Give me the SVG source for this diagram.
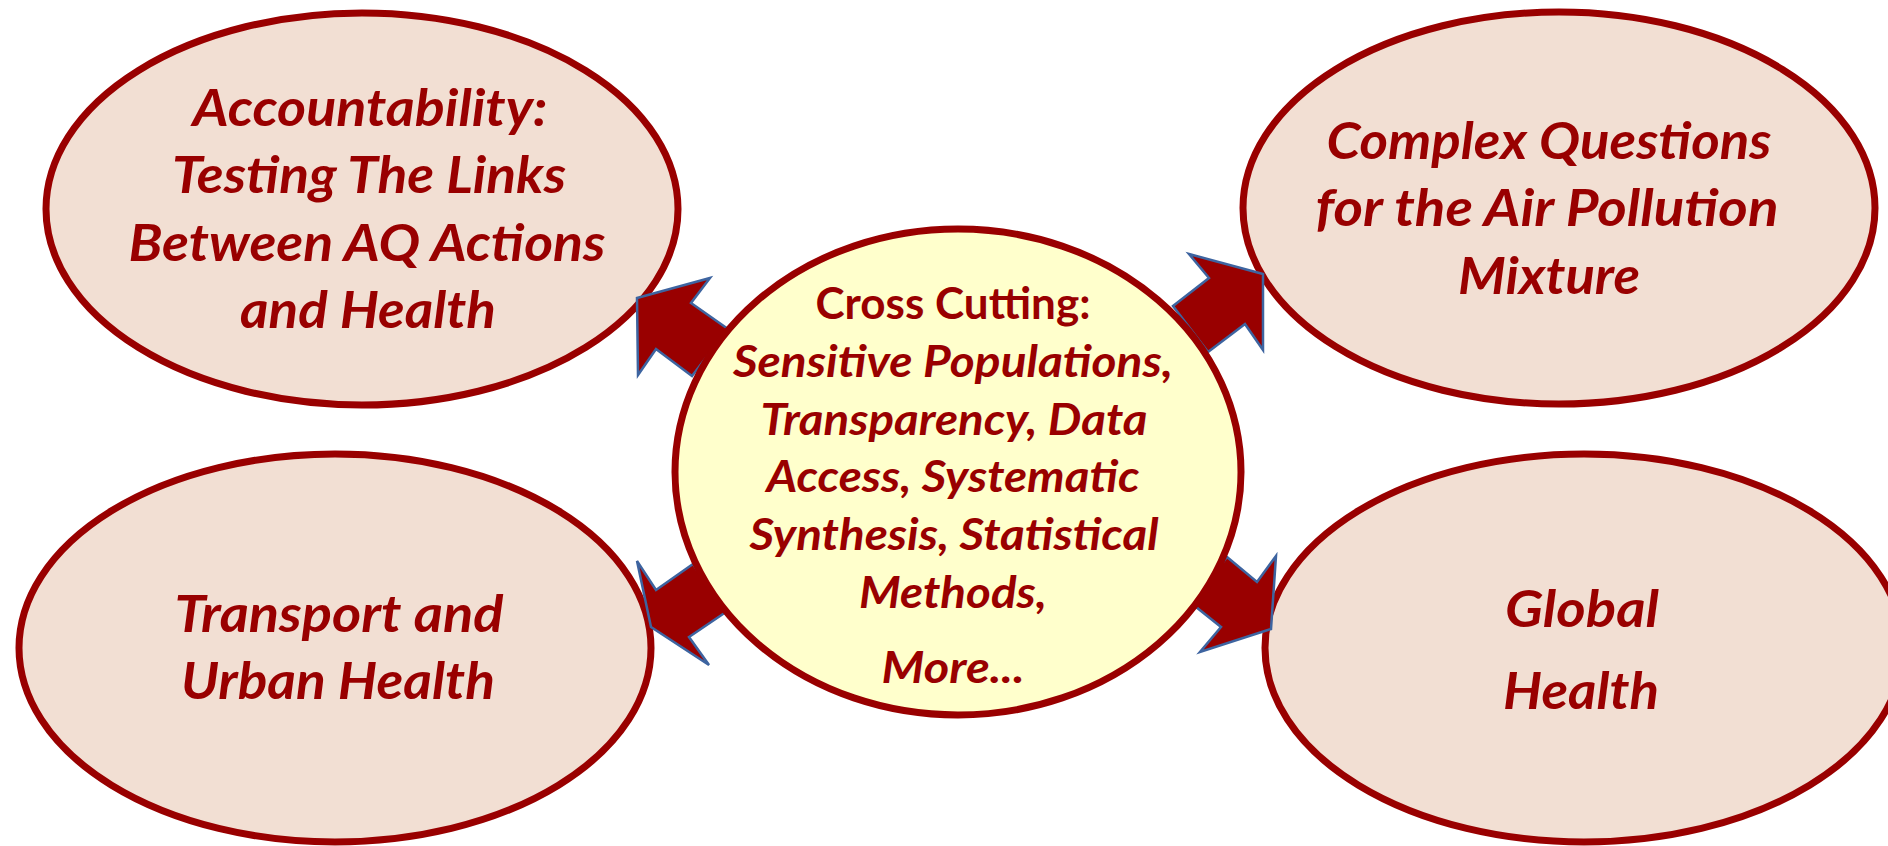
<svg xmlns="http://www.w3.org/2000/svg" width="1888" height="846" viewBox="0 0 1888 846">
<defs>
<style>
.outer{fill:#F2DFD3;stroke:#990000;stroke-width:7}
.center{fill:#FFFFCC;stroke:#990000;stroke-width:7}
.arrow{fill:#990000;stroke:#3D64A0;stroke-width:2.5;stroke-linejoin:miter}
.t{font-family:Lato,"Open Sans","Liberation Sans",sans-serif;font-weight:bold;font-style:italic;fill:#990000;text-anchor:middle}
.big{font-size:52px}
.mid{font-size:43px}
.up{font-style:normal}
</style>
</defs>
<rect width="1888" height="846" fill="#FFFFFF"/>
<g id="node-accountability">
<ellipse class="outer" cx="362" cy="209" rx="316" ry="196"/>
<text class="t big" x="370" y="126" textLength="355" lengthAdjust="spacingAndGlyphs">Accountability:</text>
<text class="t big" x="369" y="193" textLength="394" lengthAdjust="spacingAndGlyphs">Testing The Links</text>
<text class="t big" x="367" y="261" textLength="477" lengthAdjust="spacingAndGlyphs">Between AQ Actions</text>
<text class="t big" x="368" y="328" textLength="256" lengthAdjust="spacingAndGlyphs">and Health</text>
</g>
<g id="node-complex">
<ellipse class="outer" cx="1559" cy="208" rx="316" ry="196"/>
<text class="t big" x="1549" y="159" textLength="445" lengthAdjust="spacingAndGlyphs">Complex Questions</text>
<text class="t big" x="1547" y="226" textLength="463" lengthAdjust="spacingAndGlyphs">for the Air Pollution</text>
<text class="t big" x="1549" y="294" textLength="182" lengthAdjust="spacingAndGlyphs">Mixture</text>
</g>
<g id="node-transport">
<ellipse class="outer" cx="335" cy="648" rx="316" ry="194"/>
<text class="t big" x="339" y="632" textLength="329" lengthAdjust="spacingAndGlyphs">Transport and</text>
<text class="t big" x="338" y="699" textLength="314" lengthAdjust="spacingAndGlyphs">Urban Health</text>
</g>
<g id="node-global">
<ellipse class="outer" cx="1584" cy="648" rx="319" ry="194"/>
<text class="t big" x="1582" y="627" textLength="154" lengthAdjust="spacingAndGlyphs">Global</text>
<text class="t big" x="1581" y="709" textLength="156" lengthAdjust="spacingAndGlyphs">Health</text>
</g>
<g id="connectors">
<polygon class="arrow" points="637,298 710,278 691,303 728,329 692,376 656,349 638,375"/>
<polygon class="arrow" points="1189,254 1263,274 1263,350 1245,324 1208,352 1173,306 1209,278"/>
<polygon class="arrow" points="637,561 656,590 693,564 726,612 689,637 709,665 651,627"/>
<polygon class="arrow" points="1227,557 1257,582 1276,556 1271,629 1200,652 1221,627 1191,603"/>
</g>
<g id="node-crosscutting">
<ellipse class="center" cx="958" cy="472" rx="283" ry="243"/>
<text class="t mid up" x="953" y="319" textLength="275" lengthAdjust="spacingAndGlyphs">Cross Cutting:</text>
<text class="t mid" x="953" y="377" textLength="440" lengthAdjust="spacingAndGlyphs">Sensitive Populations,</text>
<text class="t mid" x="954" y="435" textLength="387" lengthAdjust="spacingAndGlyphs">Transparency, Data</text>
<text class="t mid" x="953" y="492" textLength="373" lengthAdjust="spacingAndGlyphs">Access, Systematic</text>
<text class="t mid" x="954" y="550" textLength="409" lengthAdjust="spacingAndGlyphs">Synthesis, Statistical</text>
<text class="t mid" x="953" y="608" textLength="188" lengthAdjust="spacingAndGlyphs">Methods,</text>
<text class="t mid" x="953" y="683" textLength="143" lengthAdjust="spacingAndGlyphs">More...</text>
</g>
</svg>
